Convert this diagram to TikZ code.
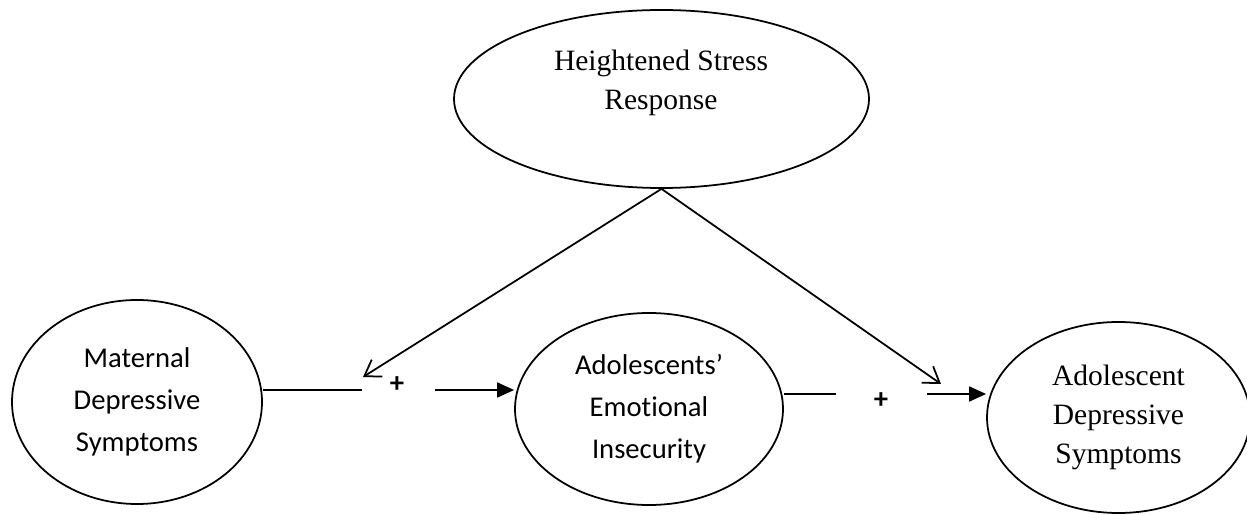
\documentclass[tikz,border=0pt]{standalone}
\usepackage{fontspec}
\setmainfont{Liberation Serif}
\newfontfamily\calibrifont[Ligatures=NoCommon]{Carlito}
\usetikzlibrary{arrows.meta, shapes.geometric, positioning}

\begin{document}
\begin{tikzpicture}[x=0.2mm, y=-0.2mm, line width=1pt,
    latent/.style={draw, ellipse, align=center, inner sep=0pt, font=\fontsize{16.8}{22}\selectfont},
    sans/.style={font=\calibrifont\fontsize{16.3}{24}\selectfont},
    sign/.style={font=\calibrifont\bfseries\fontsize{16.3}{19}\selectfont, inner sep=0pt},
    solidhead/.style={-{Triangle[length=3.4mm, width=3mm]}},
    openhead/.style={-{Straight Barb[length=3mm, width=4mm]}}]
    % Frame
    \useasboundingbox (0,0) rectangle (1247,515);

    % Moderator
    \node[latent, minimum width=83mm, minimum height=35.6mm] (stress) at (661.5,99) {};
    \node[font=\fontsize{16.8}{22}\selectfont, align=center] (stresstext) at (661,83) {Heightened Stress\\Response};

    % Constructs
    \node[latent, sans, minimum width=50mm, minimum height=40.8mm] (maternal) at (137,402) {Maternal\\Depressive\\Symptoms};
    \node[latent, sans, minimum width=53.6mm, minimum height=38.4mm] (insecurity) at (649,409) {Adolescents’\\Emotional\\Insecurity};
    \node[latent, minimum width=52.6mm, minimum height=38.2mm] (adolescent) at (1118.5,417.5) {Adolescent\\Depressive\\Symptoms};

    % Signs
    \node[sign] (plusA) at (397,385) {+};
    \node[sign] (plusB) at (881,401) {+};

    % Gap ends and moderation points
    \coordinate (gapA) at (362,390);
    \coordinate (restA) at (435,390);
    \coordinate (gapB) at (836,394);
    \coordinate (restB) at (927,394);
    \coordinate (modA) at (363,377);
    \coordinate (modB) at (941,384);

    % Paths
    \draw (maternal.east |- gapA) -- (gapA);
    \draw[solidhead] (restA) -- (restA -| insecurity.west);
    \draw (insecurity.east |- gapB) -- (gapB);
    \draw[solidhead] (restB) -- (restB -| adolescent.west);
    \draw[openhead] (stress.south) -- (modA);
    \draw[openhead] (stress.south) -- (modB);
\end{tikzpicture}
\end{document}
